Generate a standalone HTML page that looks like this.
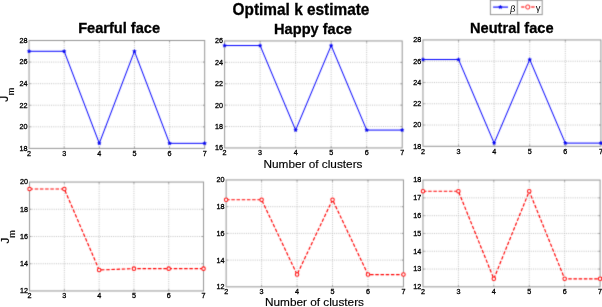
<!DOCTYPE html>
<html><head><meta charset="utf-8"><style>
html,body{margin:0;padding:0;background:#fff;width:602px;height:307px;overflow:hidden}
svg{display:block;will-change:transform}
text{font-family:"Liberation Sans", sans-serif;fill:#000}
.tk{stroke:#000;stroke-width:0.3px}
.tt{stroke:#000;stroke-width:0.3px}
.xl{stroke:#000;stroke-width:0.15px}
</style></head><body>
<svg width="602" height="307" viewBox="0 0 602 307">
<defs><filter id="bl" color-interpolation-filters="sRGB" filterUnits="userSpaceOnUse" x="0" y="0" width="602" height="307"><feConvolveMatrix order="3" kernelMatrix="0.0169 0.0962 0.0169 0.0962 0.5476 0.0962 0.0169 0.0962 0.0169" edgeMode="duplicate"/></filter></defs>
<rect width="602" height="307" fill="#fff"/>
<g filter="url(#bl)">
<rect x="-5" y="-5" width="612" height="317" fill="#fff"/>
<line x1="64.18" y1="40.5" x2="64.18" y2="148.4" stroke="#b4b4b4" stroke-width="0.8" stroke-dasharray="1 1.2"/><line x1="99.3" y1="40.5" x2="99.3" y2="148.4" stroke="#b4b4b4" stroke-width="0.8" stroke-dasharray="1 1.2"/><line x1="134.43" y1="40.5" x2="134.43" y2="148.4" stroke="#b4b4b4" stroke-width="0.8" stroke-dasharray="1 1.2"/><line x1="169.55" y1="40.5" x2="169.55" y2="148.4" stroke="#b4b4b4" stroke-width="0.8" stroke-dasharray="1 1.2"/><line x1="29.05" y1="126.82" x2="204.68" y2="126.82" stroke="#b4b4b4" stroke-width="0.8" stroke-dasharray="1 1.2"/><line x1="29.05" y1="105.24" x2="204.68" y2="105.24" stroke="#b4b4b4" stroke-width="0.8" stroke-dasharray="1 1.2"/><line x1="29.05" y1="83.66" x2="204.68" y2="83.66" stroke="#b4b4b4" stroke-width="0.8" stroke-dasharray="1 1.2"/><line x1="29.05" y1="62.08" x2="204.68" y2="62.08" stroke="#b4b4b4" stroke-width="0.8" stroke-dasharray="1 1.2"/><line x1="64.18" y1="148.4" x2="64.18" y2="146.6" stroke="#959595" stroke-width="0.9"/><line x1="64.18" y1="40.5" x2="64.18" y2="42.3" stroke="#959595" stroke-width="0.9"/><line x1="99.3" y1="148.4" x2="99.3" y2="146.6" stroke="#959595" stroke-width="0.9"/><line x1="99.3" y1="40.5" x2="99.3" y2="42.3" stroke="#959595" stroke-width="0.9"/><line x1="134.43" y1="148.4" x2="134.43" y2="146.6" stroke="#959595" stroke-width="0.9"/><line x1="134.43" y1="40.5" x2="134.43" y2="42.3" stroke="#959595" stroke-width="0.9"/><line x1="169.55" y1="148.4" x2="169.55" y2="146.6" stroke="#959595" stroke-width="0.9"/><line x1="169.55" y1="40.5" x2="169.55" y2="42.3" stroke="#959595" stroke-width="0.9"/><line x1="29.05" y1="126.82" x2="30.85" y2="126.82" stroke="#959595" stroke-width="0.9"/><line x1="204.68" y1="126.82" x2="202.88" y2="126.82" stroke="#959595" stroke-width="0.9"/><line x1="29.05" y1="105.24" x2="30.85" y2="105.24" stroke="#959595" stroke-width="0.9"/><line x1="204.68" y1="105.24" x2="202.88" y2="105.24" stroke="#959595" stroke-width="0.9"/><line x1="29.05" y1="83.66" x2="30.85" y2="83.66" stroke="#959595" stroke-width="0.9"/><line x1="204.68" y1="83.66" x2="202.88" y2="83.66" stroke="#959595" stroke-width="0.9"/><line x1="29.05" y1="62.08" x2="30.85" y2="62.08" stroke="#959595" stroke-width="0.9"/><line x1="204.68" y1="62.08" x2="202.88" y2="62.08" stroke="#959595" stroke-width="0.9"/><rect x="29.05" y="40.5" width="175.63" height="107.9" fill="none" stroke="#959595" stroke-width="1.0"/><polyline points="29.05,51.29 64.18,51.29 99.3,143.33 134.43,51.29 169.55,143.33 204.68,143.33" fill="none" stroke="#0000ff" stroke-width="1.0"/><polygon points="29.05,49.29 29.64,50.48 30.95,50.67 30,51.6 30.23,52.91 29.05,52.29 27.87,52.91 28.1,51.6 27.15,50.67 28.46,50.48" fill="#0000f0" stroke="#0000f0" stroke-width="0.35"/><polygon points="64.18,49.29 64.76,50.48 66.08,50.67 65.13,51.6 65.35,52.91 64.18,52.29 63,52.91 63.22,51.6 62.27,50.67 63.59,50.48" fill="#0000f0" stroke="#0000f0" stroke-width="0.35"/><polygon points="99.3,141.33 99.89,142.52 101.2,142.71 100.25,143.64 100.48,144.95 99.3,144.33 98.13,144.95 98.35,143.64 97.4,142.71 98.71,142.52" fill="#0000f0" stroke="#0000f0" stroke-width="0.35"/><polygon points="134.43,49.29 135.02,50.48 136.33,50.67 135.38,51.6 135.6,52.91 134.43,52.29 133.25,52.91 133.48,51.6 132.53,50.67 133.84,50.48" fill="#0000f0" stroke="#0000f0" stroke-width="0.35"/><polygon points="169.55,141.33 170.14,142.52 171.46,142.71 170.51,143.64 170.73,144.95 169.55,144.33 168.38,144.95 168.6,143.64 167.65,142.71 168.97,142.52" fill="#0000f0" stroke="#0000f0" stroke-width="0.35"/><polygon points="204.68,141.33 205.27,142.52 206.58,142.71 205.63,143.64 205.86,144.95 204.68,144.33 203.5,144.95 203.73,143.64 202.78,142.71 204.09,142.52" fill="#0000f0" stroke="#0000f0" stroke-width="0.35"/>
<line x1="260.12" y1="40.95" x2="260.12" y2="147.95" stroke="#b4b4b4" stroke-width="0.8" stroke-dasharray="1 1.2"/><line x1="295.64" y1="40.95" x2="295.64" y2="147.95" stroke="#b4b4b4" stroke-width="0.8" stroke-dasharray="1 1.2"/><line x1="331.16" y1="40.95" x2="331.16" y2="147.95" stroke="#b4b4b4" stroke-width="0.8" stroke-dasharray="1 1.2"/><line x1="366.68" y1="40.95" x2="366.68" y2="147.95" stroke="#b4b4b4" stroke-width="0.8" stroke-dasharray="1 1.2"/><line x1="224.6" y1="126.55" x2="402.2" y2="126.55" stroke="#b4b4b4" stroke-width="0.8" stroke-dasharray="1 1.2"/><line x1="224.6" y1="105.15" x2="402.2" y2="105.15" stroke="#b4b4b4" stroke-width="0.8" stroke-dasharray="1 1.2"/><line x1="224.6" y1="83.75" x2="402.2" y2="83.75" stroke="#b4b4b4" stroke-width="0.8" stroke-dasharray="1 1.2"/><line x1="224.6" y1="62.35" x2="402.2" y2="62.35" stroke="#b4b4b4" stroke-width="0.8" stroke-dasharray="1 1.2"/><line x1="260.12" y1="147.95" x2="260.12" y2="146.15" stroke="#959595" stroke-width="0.9"/><line x1="260.12" y1="40.95" x2="260.12" y2="42.75" stroke="#959595" stroke-width="0.9"/><line x1="295.64" y1="147.95" x2="295.64" y2="146.15" stroke="#959595" stroke-width="0.9"/><line x1="295.64" y1="40.95" x2="295.64" y2="42.75" stroke="#959595" stroke-width="0.9"/><line x1="331.16" y1="147.95" x2="331.16" y2="146.15" stroke="#959595" stroke-width="0.9"/><line x1="331.16" y1="40.95" x2="331.16" y2="42.75" stroke="#959595" stroke-width="0.9"/><line x1="366.68" y1="147.95" x2="366.68" y2="146.15" stroke="#959595" stroke-width="0.9"/><line x1="366.68" y1="40.95" x2="366.68" y2="42.75" stroke="#959595" stroke-width="0.9"/><line x1="224.6" y1="126.55" x2="226.4" y2="126.55" stroke="#959595" stroke-width="0.9"/><line x1="402.2" y1="126.55" x2="400.4" y2="126.55" stroke="#959595" stroke-width="0.9"/><line x1="224.6" y1="105.15" x2="226.4" y2="105.15" stroke="#959595" stroke-width="0.9"/><line x1="402.2" y1="105.15" x2="400.4" y2="105.15" stroke="#959595" stroke-width="0.9"/><line x1="224.6" y1="83.75" x2="226.4" y2="83.75" stroke="#959595" stroke-width="0.9"/><line x1="402.2" y1="83.75" x2="400.4" y2="83.75" stroke="#959595" stroke-width="0.9"/><line x1="224.6" y1="62.35" x2="226.4" y2="62.35" stroke="#959595" stroke-width="0.9"/><line x1="402.2" y1="62.35" x2="400.4" y2="62.35" stroke="#959595" stroke-width="0.9"/><rect x="224.6" y="40.95" width="177.6" height="107" fill="none" stroke="#959595" stroke-width="1.0"/><polyline points="224.6,45.55 260.12,45.55 295.64,130.08 331.16,45.55 366.68,130.08 402.2,130.08" fill="none" stroke="#0000ff" stroke-width="1.0"/><polygon points="224.6,43.55 225.19,44.74 226.5,44.93 225.55,45.86 225.78,47.17 224.6,46.55 223.42,47.17 223.65,45.86 222.7,44.93 224.01,44.74" fill="#0000f0" stroke="#0000f0" stroke-width="0.35"/><polygon points="260.12,43.55 260.71,44.74 262.02,44.93 261.07,45.86 261.3,47.17 260.12,46.55 258.94,47.17 259.17,45.86 258.22,44.93 259.53,44.74" fill="#0000f0" stroke="#0000f0" stroke-width="0.35"/><polygon points="295.64,128.08 296.23,129.27 297.54,129.46 296.59,130.39 296.82,131.7 295.64,131.08 294.46,131.7 294.69,130.39 293.74,129.46 295.05,129.27" fill="#0000f0" stroke="#0000f0" stroke-width="0.35"/><polygon points="331.16,43.55 331.75,44.74 333.06,44.93 332.11,45.86 332.34,47.17 331.16,46.55 329.98,47.17 330.21,45.86 329.26,44.93 330.57,44.74" fill="#0000f0" stroke="#0000f0" stroke-width="0.35"/><polygon points="366.68,128.08 367.27,129.27 368.58,129.46 367.63,130.39 367.86,131.7 366.68,131.08 365.5,131.7 365.73,130.39 364.78,129.46 366.09,129.27" fill="#0000f0" stroke="#0000f0" stroke-width="0.35"/><polygon points="402.2,128.08 402.79,129.27 404.1,129.46 403.15,130.39 403.38,131.7 402.2,131.08 401.02,131.7 401.25,130.39 400.3,129.46 401.61,129.27" fill="#0000f0" stroke="#0000f0" stroke-width="0.35"/>
<line x1="458.56" y1="39.95" x2="458.56" y2="146.3" stroke="#b4b4b4" stroke-width="0.8" stroke-dasharray="1 1.2"/><line x1="494.14" y1="39.95" x2="494.14" y2="146.3" stroke="#b4b4b4" stroke-width="0.8" stroke-dasharray="1 1.2"/><line x1="529.73" y1="39.95" x2="529.73" y2="146.3" stroke="#b4b4b4" stroke-width="0.8" stroke-dasharray="1 1.2"/><line x1="565.31" y1="39.95" x2="565.31" y2="146.3" stroke="#b4b4b4" stroke-width="0.8" stroke-dasharray="1 1.2"/><line x1="422.97" y1="125.03" x2="600.9" y2="125.03" stroke="#b4b4b4" stroke-width="0.8" stroke-dasharray="1 1.2"/><line x1="422.97" y1="103.76" x2="600.9" y2="103.76" stroke="#b4b4b4" stroke-width="0.8" stroke-dasharray="1 1.2"/><line x1="422.97" y1="82.49" x2="600.9" y2="82.49" stroke="#b4b4b4" stroke-width="0.8" stroke-dasharray="1 1.2"/><line x1="422.97" y1="61.22" x2="600.9" y2="61.22" stroke="#b4b4b4" stroke-width="0.8" stroke-dasharray="1 1.2"/><line x1="458.56" y1="146.3" x2="458.56" y2="144.5" stroke="#959595" stroke-width="0.9"/><line x1="458.56" y1="39.95" x2="458.56" y2="41.75" stroke="#959595" stroke-width="0.9"/><line x1="494.14" y1="146.3" x2="494.14" y2="144.5" stroke="#959595" stroke-width="0.9"/><line x1="494.14" y1="39.95" x2="494.14" y2="41.75" stroke="#959595" stroke-width="0.9"/><line x1="529.73" y1="146.3" x2="529.73" y2="144.5" stroke="#959595" stroke-width="0.9"/><line x1="529.73" y1="39.95" x2="529.73" y2="41.75" stroke="#959595" stroke-width="0.9"/><line x1="565.31" y1="146.3" x2="565.31" y2="144.5" stroke="#959595" stroke-width="0.9"/><line x1="565.31" y1="39.95" x2="565.31" y2="41.75" stroke="#959595" stroke-width="0.9"/><line x1="422.97" y1="125.03" x2="424.77" y2="125.03" stroke="#959595" stroke-width="0.9"/><line x1="600.9" y1="125.03" x2="599.1" y2="125.03" stroke="#959595" stroke-width="0.9"/><line x1="422.97" y1="103.76" x2="424.77" y2="103.76" stroke="#959595" stroke-width="0.9"/><line x1="600.9" y1="103.76" x2="599.1" y2="103.76" stroke="#959595" stroke-width="0.9"/><line x1="422.97" y1="82.49" x2="424.77" y2="82.49" stroke="#959595" stroke-width="0.9"/><line x1="600.9" y1="82.49" x2="599.1" y2="82.49" stroke="#959595" stroke-width="0.9"/><line x1="422.97" y1="61.22" x2="424.77" y2="61.22" stroke="#959595" stroke-width="0.9"/><line x1="600.9" y1="61.22" x2="599.1" y2="61.22" stroke="#959595" stroke-width="0.9"/><rect x="422.97" y="39.95" width="177.93" height="106.35" fill="none" stroke="#959595" stroke-width="1.0"/><polyline points="422.97,59.52 458.56,59.52 494.14,143.11 529.73,59.52 565.31,143.11 600.9,143.11" fill="none" stroke="#0000ff" stroke-width="1.0"/><polygon points="422.97,57.52 423.56,58.71 424.87,58.9 423.92,59.83 424.15,61.14 422.97,60.52 421.79,61.14 422.02,59.83 421.07,58.9 422.38,58.71" fill="#0000f0" stroke="#0000f0" stroke-width="0.35"/><polygon points="458.56,57.52 459.14,58.71 460.46,58.9 459.51,59.83 459.73,61.14 458.56,60.52 457.38,61.14 457.6,59.83 456.65,58.9 457.97,58.71" fill="#0000f0" stroke="#0000f0" stroke-width="0.35"/><polygon points="494.14,141.11 494.73,142.3 496.04,142.49 495.09,143.42 495.32,144.73 494.14,144.11 492.97,144.73 493.19,143.42 492.24,142.49 493.55,142.3" fill="#0000f0" stroke="#0000f0" stroke-width="0.35"/><polygon points="529.73,57.52 530.32,58.71 531.63,58.9 530.68,59.83 530.9,61.14 529.73,60.52 528.55,61.14 528.78,59.83 527.83,58.9 529.14,58.71" fill="#0000f0" stroke="#0000f0" stroke-width="0.35"/><polygon points="565.31,141.11 565.9,142.3 567.22,142.49 566.27,143.42 566.49,144.73 565.31,144.11 564.14,144.73 564.36,143.42 563.41,142.49 564.73,142.3" fill="#0000f0" stroke="#0000f0" stroke-width="0.35"/><polygon points="600.9,141.11 601.49,142.3 602.8,142.49 601.85,143.42 602.08,144.73 600.9,144.11 599.72,144.73 599.95,143.42 599,142.49 600.31,142.3" fill="#0000f0" stroke="#0000f0" stroke-width="0.35"/>
<line x1="64.34" y1="182.05" x2="64.34" y2="290.96" stroke="#b4b4b4" stroke-width="0.8" stroke-dasharray="1 1.2"/><line x1="99.14" y1="182.05" x2="99.14" y2="290.96" stroke="#b4b4b4" stroke-width="0.8" stroke-dasharray="1 1.2"/><line x1="133.94" y1="182.05" x2="133.94" y2="290.96" stroke="#b4b4b4" stroke-width="0.8" stroke-dasharray="1 1.2"/><line x1="168.74" y1="182.05" x2="168.74" y2="290.96" stroke="#b4b4b4" stroke-width="0.8" stroke-dasharray="1 1.2"/><line x1="29.54" y1="263.73" x2="203.54" y2="263.73" stroke="#b4b4b4" stroke-width="0.8" stroke-dasharray="1 1.2"/><line x1="29.54" y1="236.5" x2="203.54" y2="236.5" stroke="#b4b4b4" stroke-width="0.8" stroke-dasharray="1 1.2"/><line x1="29.54" y1="209.28" x2="203.54" y2="209.28" stroke="#b4b4b4" stroke-width="0.8" stroke-dasharray="1 1.2"/><line x1="64.34" y1="290.96" x2="64.34" y2="289.16" stroke="#959595" stroke-width="0.9"/><line x1="64.34" y1="182.05" x2="64.34" y2="183.85" stroke="#959595" stroke-width="0.9"/><line x1="99.14" y1="290.96" x2="99.14" y2="289.16" stroke="#959595" stroke-width="0.9"/><line x1="99.14" y1="182.05" x2="99.14" y2="183.85" stroke="#959595" stroke-width="0.9"/><line x1="133.94" y1="290.96" x2="133.94" y2="289.16" stroke="#959595" stroke-width="0.9"/><line x1="133.94" y1="182.05" x2="133.94" y2="183.85" stroke="#959595" stroke-width="0.9"/><line x1="168.74" y1="290.96" x2="168.74" y2="289.16" stroke="#959595" stroke-width="0.9"/><line x1="168.74" y1="182.05" x2="168.74" y2="183.85" stroke="#959595" stroke-width="0.9"/><line x1="29.54" y1="263.73" x2="31.34" y2="263.73" stroke="#959595" stroke-width="0.9"/><line x1="203.54" y1="263.73" x2="201.74" y2="263.73" stroke="#959595" stroke-width="0.9"/><line x1="29.54" y1="236.5" x2="31.34" y2="236.5" stroke="#959595" stroke-width="0.9"/><line x1="203.54" y1="236.5" x2="201.74" y2="236.5" stroke="#959595" stroke-width="0.9"/><line x1="29.54" y1="209.28" x2="31.34" y2="209.28" stroke="#959595" stroke-width="0.9"/><line x1="203.54" y1="209.28" x2="201.74" y2="209.28" stroke="#959595" stroke-width="0.9"/><rect x="29.54" y="182.05" width="174" height="108.91" fill="none" stroke="#959595" stroke-width="1.0"/><polyline points="29.54,188.99 64.34,188.99 99.14,269.99 133.94,268.63 168.74,268.63 203.54,268.63" fill="none" stroke="#ff0000" stroke-width="1.15" stroke-dasharray="3.5 1.7"/><circle cx="29.54" cy="188.99" r="1.75" fill="#fff" stroke="#ff1010" stroke-width="1.05"/><circle cx="64.34" cy="188.99" r="1.75" fill="#fff" stroke="#ff1010" stroke-width="1.05"/><circle cx="99.14" cy="269.99" r="1.75" fill="#fff" stroke="#ff1010" stroke-width="1.05"/><circle cx="133.94" cy="268.63" r="1.75" fill="#fff" stroke="#ff1010" stroke-width="1.05"/><circle cx="168.74" cy="268.63" r="1.75" fill="#fff" stroke="#ff1010" stroke-width="1.05"/><circle cx="203.54" cy="268.63" r="1.75" fill="#fff" stroke="#ff1010" stroke-width="1.05"/>
<line x1="261.6" y1="179.95" x2="261.6" y2="286.85" stroke="#b4b4b4" stroke-width="0.8" stroke-dasharray="1 1.2"/><line x1="297.06" y1="179.95" x2="297.06" y2="286.85" stroke="#b4b4b4" stroke-width="0.8" stroke-dasharray="1 1.2"/><line x1="332.53" y1="179.95" x2="332.53" y2="286.85" stroke="#b4b4b4" stroke-width="0.8" stroke-dasharray="1 1.2"/><line x1="367.99" y1="179.95" x2="367.99" y2="286.85" stroke="#b4b4b4" stroke-width="0.8" stroke-dasharray="1 1.2"/><line x1="226.13" y1="260.12" x2="403.46" y2="260.12" stroke="#b4b4b4" stroke-width="0.8" stroke-dasharray="1 1.2"/><line x1="226.13" y1="233.4" x2="403.46" y2="233.4" stroke="#b4b4b4" stroke-width="0.8" stroke-dasharray="1 1.2"/><line x1="226.13" y1="206.68" x2="403.46" y2="206.68" stroke="#b4b4b4" stroke-width="0.8" stroke-dasharray="1 1.2"/><line x1="261.6" y1="286.85" x2="261.6" y2="285.05" stroke="#959595" stroke-width="0.9"/><line x1="261.6" y1="179.95" x2="261.6" y2="181.75" stroke="#959595" stroke-width="0.9"/><line x1="297.06" y1="286.85" x2="297.06" y2="285.05" stroke="#959595" stroke-width="0.9"/><line x1="297.06" y1="179.95" x2="297.06" y2="181.75" stroke="#959595" stroke-width="0.9"/><line x1="332.53" y1="286.85" x2="332.53" y2="285.05" stroke="#959595" stroke-width="0.9"/><line x1="332.53" y1="179.95" x2="332.53" y2="181.75" stroke="#959595" stroke-width="0.9"/><line x1="367.99" y1="286.85" x2="367.99" y2="285.05" stroke="#959595" stroke-width="0.9"/><line x1="367.99" y1="179.95" x2="367.99" y2="181.75" stroke="#959595" stroke-width="0.9"/><line x1="226.13" y1="260.12" x2="227.93" y2="260.12" stroke="#959595" stroke-width="0.9"/><line x1="403.46" y1="260.12" x2="401.66" y2="260.12" stroke="#959595" stroke-width="0.9"/><line x1="226.13" y1="233.4" x2="227.93" y2="233.4" stroke="#959595" stroke-width="0.9"/><line x1="403.46" y1="233.4" x2="401.66" y2="233.4" stroke="#959595" stroke-width="0.9"/><line x1="226.13" y1="206.68" x2="227.93" y2="206.68" stroke="#959595" stroke-width="0.9"/><line x1="403.46" y1="206.68" x2="401.66" y2="206.68" stroke="#959595" stroke-width="0.9"/><rect x="226.13" y="179.95" width="177.33" height="106.9" fill="none" stroke="#959595" stroke-width="1.0"/><polyline points="226.13,199.73 261.6,199.73 297.06,274.56 332.53,199.73 367.99,274.56 403.46,274.56" fill="none" stroke="#ff0000" stroke-width="1.15" stroke-dasharray="3.5 1.7"/><circle cx="226.13" cy="199.73" r="1.75" fill="#fff" stroke="#ff1010" stroke-width="1.05"/><circle cx="261.6" cy="199.73" r="1.75" fill="#fff" stroke="#ff1010" stroke-width="1.05"/><circle cx="297.06" cy="274.56" r="1.75" fill="#fff" stroke="#ff1010" stroke-width="1.05"/><circle cx="332.53" cy="199.73" r="1.75" fill="#fff" stroke="#ff1010" stroke-width="1.05"/><circle cx="367.99" cy="274.56" r="1.75" fill="#fff" stroke="#ff1010" stroke-width="1.05"/><circle cx="403.46" cy="274.56" r="1.75" fill="#fff" stroke="#ff1010" stroke-width="1.05"/>
<line x1="458.4" y1="180.06" x2="458.4" y2="286.85" stroke="#b4b4b4" stroke-width="0.8" stroke-dasharray="1 1.2"/><line x1="493.82" y1="180.06" x2="493.82" y2="286.85" stroke="#b4b4b4" stroke-width="0.8" stroke-dasharray="1 1.2"/><line x1="529.25" y1="180.06" x2="529.25" y2="286.85" stroke="#b4b4b4" stroke-width="0.8" stroke-dasharray="1 1.2"/><line x1="564.67" y1="180.06" x2="564.67" y2="286.85" stroke="#b4b4b4" stroke-width="0.8" stroke-dasharray="1 1.2"/><line x1="422.97" y1="269.05" x2="600.1" y2="269.05" stroke="#b4b4b4" stroke-width="0.8" stroke-dasharray="1 1.2"/><line x1="422.97" y1="251.25" x2="600.1" y2="251.25" stroke="#b4b4b4" stroke-width="0.8" stroke-dasharray="1 1.2"/><line x1="422.97" y1="233.46" x2="600.1" y2="233.46" stroke="#b4b4b4" stroke-width="0.8" stroke-dasharray="1 1.2"/><line x1="422.97" y1="215.66" x2="600.1" y2="215.66" stroke="#b4b4b4" stroke-width="0.8" stroke-dasharray="1 1.2"/><line x1="422.97" y1="197.86" x2="600.1" y2="197.86" stroke="#b4b4b4" stroke-width="0.8" stroke-dasharray="1 1.2"/><line x1="458.4" y1="286.85" x2="458.4" y2="285.05" stroke="#959595" stroke-width="0.9"/><line x1="458.4" y1="180.06" x2="458.4" y2="181.86" stroke="#959595" stroke-width="0.9"/><line x1="493.82" y1="286.85" x2="493.82" y2="285.05" stroke="#959595" stroke-width="0.9"/><line x1="493.82" y1="180.06" x2="493.82" y2="181.86" stroke="#959595" stroke-width="0.9"/><line x1="529.25" y1="286.85" x2="529.25" y2="285.05" stroke="#959595" stroke-width="0.9"/><line x1="529.25" y1="180.06" x2="529.25" y2="181.86" stroke="#959595" stroke-width="0.9"/><line x1="564.67" y1="286.85" x2="564.67" y2="285.05" stroke="#959595" stroke-width="0.9"/><line x1="564.67" y1="180.06" x2="564.67" y2="181.86" stroke="#959595" stroke-width="0.9"/><line x1="422.97" y1="269.05" x2="424.77" y2="269.05" stroke="#959595" stroke-width="0.9"/><line x1="600.1" y1="269.05" x2="598.3" y2="269.05" stroke="#959595" stroke-width="0.9"/><line x1="422.97" y1="251.25" x2="424.77" y2="251.25" stroke="#959595" stroke-width="0.9"/><line x1="600.1" y1="251.25" x2="598.3" y2="251.25" stroke="#959595" stroke-width="0.9"/><line x1="422.97" y1="233.46" x2="424.77" y2="233.46" stroke="#959595" stroke-width="0.9"/><line x1="600.1" y1="233.46" x2="598.3" y2="233.46" stroke="#959595" stroke-width="0.9"/><line x1="422.97" y1="215.66" x2="424.77" y2="215.66" stroke="#959595" stroke-width="0.9"/><line x1="600.1" y1="215.66" x2="598.3" y2="215.66" stroke="#959595" stroke-width="0.9"/><line x1="422.97" y1="197.86" x2="424.77" y2="197.86" stroke="#959595" stroke-width="0.9"/><line x1="600.1" y1="197.86" x2="598.3" y2="197.86" stroke="#959595" stroke-width="0.9"/><rect x="422.97" y="180.06" width="177.13" height="106.79" fill="none" stroke="#959595" stroke-width="1.0"/><polyline points="422.97,191.27 458.4,191.27 493.82,278.84 529.25,191.27 564.67,278.84 600.1,278.84" fill="none" stroke="#ff0000" stroke-width="1.15" stroke-dasharray="3.5 1.7"/><circle cx="422.97" cy="191.27" r="1.75" fill="#fff" stroke="#ff1010" stroke-width="1.05"/><circle cx="458.4" cy="191.27" r="1.75" fill="#fff" stroke="#ff1010" stroke-width="1.05"/><circle cx="493.82" cy="278.84" r="1.75" fill="#fff" stroke="#ff1010" stroke-width="1.05"/><circle cx="529.25" cy="191.27" r="1.75" fill="#fff" stroke="#ff1010" stroke-width="1.05"/><circle cx="564.67" cy="278.84" r="1.75" fill="#fff" stroke="#ff1010" stroke-width="1.05"/><circle cx="600.1" cy="278.84" r="1.75" fill="#fff" stroke="#ff1010" stroke-width="1.05"/>

<rect x="490.4" y="0.3" width="27" height="14.3" fill="#fff" stroke="#959595" stroke-width="1"/>
<rect x="517.4" y="0.3" width="24.8" height="14.3" fill="#fff" stroke="#959595" stroke-width="1"/>
<line x1="493.1" y1="7.1" x2="508" y2="7.1" stroke="#0000ff" stroke-width="1.1"/>
<polygon points="500.4,5.1 500.99,6.29 502.3,6.48 501.35,7.41 501.58,8.72 500.4,8.1 499.22,8.72 499.45,7.41 498.5,6.48 499.81,6.29" fill="#0000f0" stroke="#0000f0" stroke-width="0.35"/>
<line x1="521.2" y1="7.0" x2="524.3" y2="7.0" stroke="#ff1010" stroke-width="1.2"/>
<line x1="525.6" y1="7.0" x2="530" y2="7.0" stroke="#ff1010" stroke-width="1.0"/>
<line x1="531.2" y1="7.0" x2="534.6" y2="7.0" stroke="#ff1010" stroke-width="1.2"/>
<circle cx="527.8" cy="7.0" r="2.1" fill="#fff" stroke="#ff1010" stroke-width="0.9"/>

</g>
<g>
<g transform="translate(301,15.4) scale(1,1.06)"><text x="0" y="0" text-anchor="middle" font-size="15.4" font-weight="bold" class="tt">Optimal k estimate</text></g>
<g transform="translate(119.1,33.4) scale(1,1.06)"><text x="0" y="0" text-anchor="middle" font-size="14.6" font-weight="bold" class="tt">Fearful face</text></g>
<g transform="translate(313,34.3) scale(1,1.06)"><text x="0" y="0" text-anchor="middle" font-size="14.6" font-weight="bold" class="tt">Happy face</text></g>
<g transform="translate(511.8,33.1) scale(1,1.06)"><text x="0" y="0" text-anchor="middle" font-size="14.6" font-weight="bold" class="tt">Neutral face</text></g>
<text x="313" y="168.4" text-anchor="middle" font-size="11.8" class="xl">Number of clusters</text>
<text x="314.5" y="305.9" text-anchor="middle" font-size="11.8" class="xl">Number of clusters</text>
<g transform="translate(8.2,102.1) rotate(-90)"><text x="0" y="0" font-size="12.5" class="xl">J</text></g>
<g transform="translate(14.1,95.3) rotate(-90)"><text x="0" y="0" font-size="9" class="xl">m</text></g>
<g transform="translate(8.8,243.6) rotate(-90)"><text x="0" y="0" font-size="11.5" class="xl">J</text></g>
<g transform="translate(15.1,237.7) rotate(-90)"><text x="0" y="0" font-size="9" class="xl">m</text></g>

<text x="29.05" y="155.8" text-anchor="middle" font-size="7.2" class="tk">2</text><text x="64.18" y="155.8" text-anchor="middle" font-size="7.2" class="tk">3</text><text x="99.3" y="155.8" text-anchor="middle" font-size="7.2" class="tk">4</text><text x="134.43" y="155.8" text-anchor="middle" font-size="7.2" class="tk">5</text><text x="169.55" y="155.8" text-anchor="middle" font-size="7.2" class="tk">6</text><text x="204.68" y="155.8" text-anchor="middle" font-size="7.2" class="tk">7</text><text x="27.45" y="150.8" text-anchor="end" font-size="7.2" class="tk">18</text><text x="27.45" y="129.22" text-anchor="end" font-size="7.2" class="tk">20</text><text x="27.45" y="107.64" text-anchor="end" font-size="7.2" class="tk">22</text><text x="27.45" y="86.06" text-anchor="end" font-size="7.2" class="tk">24</text><text x="27.45" y="64.48" text-anchor="end" font-size="7.2" class="tk">26</text><text x="27.45" y="42.9" text-anchor="end" font-size="7.2" class="tk">28</text><text x="224.6" y="155.35" text-anchor="middle" font-size="7.2" class="tk">2</text><text x="260.12" y="155.35" text-anchor="middle" font-size="7.2" class="tk">3</text><text x="295.64" y="155.35" text-anchor="middle" font-size="7.2" class="tk">4</text><text x="331.16" y="155.35" text-anchor="middle" font-size="7.2" class="tk">5</text><text x="366.68" y="155.35" text-anchor="middle" font-size="7.2" class="tk">6</text><text x="402.2" y="155.35" text-anchor="middle" font-size="7.2" class="tk">7</text><text x="223" y="150.35" text-anchor="end" font-size="7.2" class="tk">16</text><text x="223" y="128.95" text-anchor="end" font-size="7.2" class="tk">18</text><text x="223" y="107.55" text-anchor="end" font-size="7.2" class="tk">20</text><text x="223" y="86.15" text-anchor="end" font-size="7.2" class="tk">22</text><text x="223" y="64.75" text-anchor="end" font-size="7.2" class="tk">24</text><text x="223" y="43.35" text-anchor="end" font-size="7.2" class="tk">26</text><text x="422.97" y="153.7" text-anchor="middle" font-size="7.2" class="tk">2</text><text x="458.56" y="153.7" text-anchor="middle" font-size="7.2" class="tk">3</text><text x="494.14" y="153.7" text-anchor="middle" font-size="7.2" class="tk">4</text><text x="529.73" y="153.7" text-anchor="middle" font-size="7.2" class="tk">5</text><text x="565.31" y="153.7" text-anchor="middle" font-size="7.2" class="tk">6</text><text x="600.9" y="153.7" text-anchor="middle" font-size="7.2" class="tk">7</text><text x="421.37" y="148.7" text-anchor="end" font-size="7.2" class="tk">18</text><text x="421.37" y="127.43" text-anchor="end" font-size="7.2" class="tk">20</text><text x="421.37" y="106.16" text-anchor="end" font-size="7.2" class="tk">22</text><text x="421.37" y="84.89" text-anchor="end" font-size="7.2" class="tk">24</text><text x="421.37" y="63.62" text-anchor="end" font-size="7.2" class="tk">26</text><text x="421.37" y="42.35" text-anchor="end" font-size="7.2" class="tk">28</text><text x="29.54" y="298.36" text-anchor="middle" font-size="7.2" class="tk">2</text><text x="64.34" y="298.36" text-anchor="middle" font-size="7.2" class="tk">3</text><text x="99.14" y="298.36" text-anchor="middle" font-size="7.2" class="tk">4</text><text x="133.94" y="298.36" text-anchor="middle" font-size="7.2" class="tk">5</text><text x="168.74" y="298.36" text-anchor="middle" font-size="7.2" class="tk">6</text><text x="203.54" y="298.36" text-anchor="middle" font-size="7.2" class="tk">7</text><text x="27.94" y="293.36" text-anchor="end" font-size="7.2" class="tk">12</text><text x="27.94" y="266.13" text-anchor="end" font-size="7.2" class="tk">14</text><text x="27.94" y="238.91" text-anchor="end" font-size="7.2" class="tk">16</text><text x="27.94" y="211.68" text-anchor="end" font-size="7.2" class="tk">18</text><text x="27.94" y="184.45" text-anchor="end" font-size="7.2" class="tk">20</text><text x="226.13" y="294.25" text-anchor="middle" font-size="7.2" class="tk">2</text><text x="261.6" y="294.25" text-anchor="middle" font-size="7.2" class="tk">3</text><text x="297.06" y="294.25" text-anchor="middle" font-size="7.2" class="tk">4</text><text x="332.53" y="294.25" text-anchor="middle" font-size="7.2" class="tk">5</text><text x="367.99" y="294.25" text-anchor="middle" font-size="7.2" class="tk">6</text><text x="403.46" y="294.25" text-anchor="middle" font-size="7.2" class="tk">7</text><text x="224.53" y="289.25" text-anchor="end" font-size="7.2" class="tk">12</text><text x="224.53" y="262.52" text-anchor="end" font-size="7.2" class="tk">14</text><text x="224.53" y="235.8" text-anchor="end" font-size="7.2" class="tk">16</text><text x="224.53" y="209.08" text-anchor="end" font-size="7.2" class="tk">18</text><text x="224.53" y="182.35" text-anchor="end" font-size="7.2" class="tk">20</text><text x="422.97" y="294.25" text-anchor="middle" font-size="7.2" class="tk">2</text><text x="458.4" y="294.25" text-anchor="middle" font-size="7.2" class="tk">3</text><text x="493.82" y="294.25" text-anchor="middle" font-size="7.2" class="tk">4</text><text x="529.25" y="294.25" text-anchor="middle" font-size="7.2" class="tk">5</text><text x="564.67" y="294.25" text-anchor="middle" font-size="7.2" class="tk">6</text><text x="600.1" y="294.25" text-anchor="middle" font-size="7.2" class="tk">7</text><text x="421.37" y="289.25" text-anchor="end" font-size="7.2" class="tk">12</text><text x="421.37" y="271.45" text-anchor="end" font-size="7.2" class="tk">13</text><text x="421.37" y="253.65" text-anchor="end" font-size="7.2" class="tk">14</text><text x="421.37" y="235.86" text-anchor="end" font-size="7.2" class="tk">15</text><text x="421.37" y="218.06" text-anchor="end" font-size="7.2" class="tk">16</text><text x="421.37" y="200.26" text-anchor="end" font-size="7.2" class="tk">17</text><text x="421.37" y="182.46" text-anchor="end" font-size="7.2" class="tk">18</text>
<text x="509.8" y="11.6" font-size="9.2" fill="#3a3a3a" font-family='"Liberation Sans", sans-serif' transform="skewX(-8) translate(1.5,0)">β</text>
<text x="535.8" y="11.3" font-size="9.5" fill="#3a3a3a" font-family='"Liberation Serif", serif'>γ</text></g>
</svg>
</body></html>
